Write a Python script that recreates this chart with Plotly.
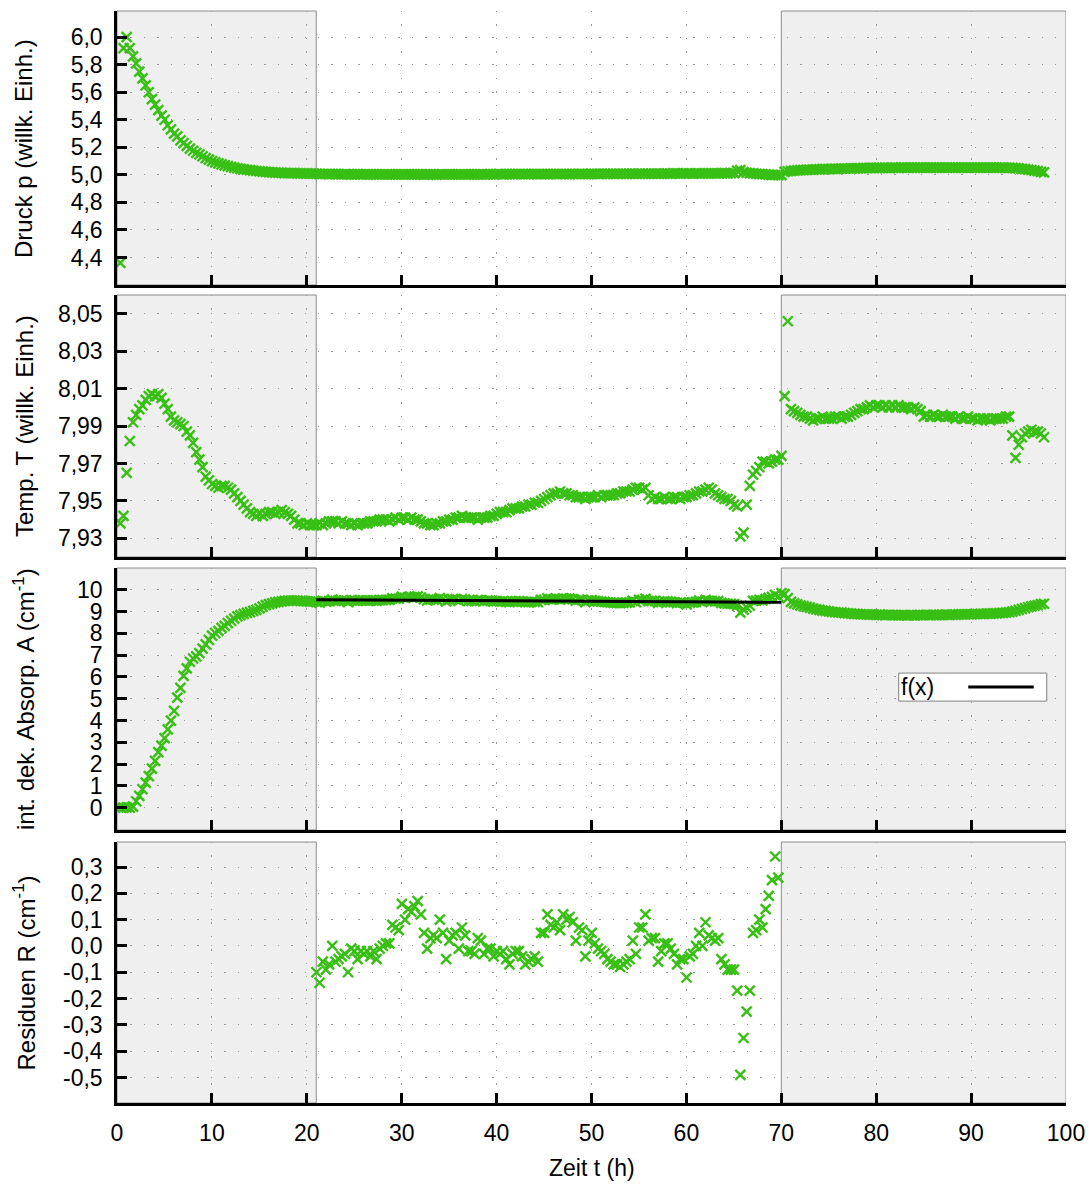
import plotly.graph_objects as go
from plotly.subplots import make_subplots

# ---------------------------------------------------------------------------
# Measurement series: one reading every 20 min, first reading at 0.35 h
# ---------------------------------------------------------------------------
T_START = 0.35
T_STEP = 1 / 3

# Druck p (willk. Einh.)
pressure = [
    4.36, 5.92,
    6.00, 5.92, 5.86,   5.81, 5.75, 5.70,   5.65, 5.60, 5.55,   5.51, 5.47, 5.43,
    5.40, 5.36, 5.33,   5.30, 5.28, 5.25,   5.23, 5.21, 5.19,   5.175, 5.160, 5.148,
    5.135, 5.122, 5.110, 5.100, 5.091, 5.083, 5.076, 5.069, 5.063, 5.058, 5.053, 5.048,
    5.044, 5.040, 5.037, 5.034, 5.031, 5.028, 5.026, 5.023, 5.021, 5.019, 5.018, 5.016,
    5.015, 5.014, 5.013, 5.013, 5.012, 5.012, 5.011, 5.011, 5.010, 5.010, 5.009, 5.009,
    # 21 h - 32 h
    5.008, 5.007, 5.006, 5.006, 5.005, 5.006, 5.005, 5.005, 5.004, 5.005, 5.004, 5.004,
    5.004, 5.005, 5.004, 5.004, 5.003, 5.004, 5.004, 5.004, 5.003, 5.003, 5.004, 5.004,
    5.004, 5.003, 5.003, 5.003, 5.004, 5.003, 5.003, 5.003, 5.004, 5.003, 5.002, 5.003,
    # 33 h - 44 h
    5.003, 5.003, 5.002, 5.003, 5.003, 5.004, 5.004, 5.003, 5.003, 5.003, 5.004, 5.004,
    5.004, 5.004, 5.003, 5.004, 5.004, 5.004, 5.004, 5.005, 5.004, 5.005, 5.005, 5.004,
    5.005, 5.005, 5.005, 5.005, 5.006, 5.005, 5.005, 5.005, 5.006, 5.006, 5.005, 5.005,
    # 45 h - 56 h
    5.005, 5.006, 5.006, 5.006, 5.005, 5.006, 5.006, 5.006, 5.005, 5.006, 5.006, 5.007,
    5.007, 5.006, 5.006, 5.007, 5.007, 5.007, 5.007, 5.008, 5.007, 5.008, 5.007, 5.008,
    5.008, 5.008, 5.007, 5.008, 5.009, 5.008, 5.009, 5.008, 5.008, 5.008, 5.009, 5.009,
    # 57 h - 69 h
    5.009, 5.008, 5.009, 5.009, 5.009, 5.010, 5.010, 5.009, 5.010, 5.010, 5.010, 5.009,
    5.010, 5.011, 5.010, 5.011, 5.010, 5.011, 5.011, 5.011, 5.012, 5.012, 5.011, 5.012,
    5.012, 5.030, 5.034, 5.020, 5.015, 5.012, 5.010, 5.008, 5.006, 5.005, 5.003, 5.002,
    5.000, 4.999, 4.998,
    # 70 h - 97 h
    4.998, 5.022, 5.026, 5.028, 5.030, 5.032, 5.034, 5.035, 5.036, 5.037, 5.038, 5.039,
    5.040, 5.041, 5.041, 5.042, 5.043, 5.044, 5.044, 5.045, 5.046, 5.046, 5.047, 5.047,
    5.048, 5.048, 5.049, 5.049, 5.050, 5.050, 5.050, 5.051, 5.051, 5.051, 5.051, 5.052,
    5.052, 5.051, 5.052, 5.052, 5.052, 5.052, 5.053, 5.052, 5.052, 5.052, 5.053, 5.052,
    5.052, 5.052, 5.053, 5.053, 5.052, 5.052, 5.052, 5.052, 5.053, 5.052, 5.053, 5.052,
    5.052, 5.052, 5.052, 5.052, 5.053, 5.052, 5.052, 5.052, 5.052, 5.052, 5.052, 5.051,
    5.051, 5.050, 5.049, 5.047, 5.044, 5.041, 5.038, 5.035, 5.031, 5.027, 5.022, 5.018,
]

# Temp. T (willk. Einh.)
temperature = [
    7.938, 7.942,
    7.965, 7.982, 7.992, 7.996, 7.999, 8.001, 8.004, 8.006, 8.007, 8.006, 8.007, 8.005,
    8.002, 7.999, 7.995, 7.993, 7.992, 7.991, 7.990, 7.987, 7.985, 7.981, 7.976, 7.972,
    7.968, 7.963, 7.961, 7.959, 7.958, 7.957, 7.958, 7.958, 7.957, 7.956, 7.954, 7.952,
    7.950, 7.948, 7.946, 7.944, 7.943, 7.942, 7.943, 7.942, 7.943, 7.944, 7.944, 7.943,
    7.944, 7.945, 7.944, 7.943, 7.942, 7.940, 7.938, 7.938, 7.937, 7.938, 7.937, 7.937,
    # 21 h - 32 h
    7.937, 7.938, 7.937, 7.938, 7.939, 7.939, 7.939, 7.938, 7.939, 7.938, 7.938, 7.937,
    7.938, 7.937, 7.938, 7.938, 7.938, 7.939, 7.939, 7.939, 7.940, 7.940, 7.940, 7.939,
    7.940, 7.941, 7.940, 7.941, 7.941, 7.940, 7.941, 7.940, 7.940, 7.939, 7.938, 7.938,
    # 33 h - 44 h
    7.937, 7.937, 7.938, 7.938, 7.939, 7.939, 7.940, 7.940, 7.941, 7.941, 7.942, 7.941,
    7.941, 7.941, 7.941, 7.940, 7.941, 7.941, 7.941, 7.942, 7.942, 7.943, 7.944, 7.944,
    7.944, 7.945, 7.946, 7.946, 7.946, 7.947, 7.947, 7.948, 7.948, 7.949, 7.949, 7.950,
    # 45 h - 56 h
    7.951, 7.952, 7.953, 7.954, 7.954, 7.955, 7.954, 7.954, 7.953, 7.953, 7.952, 7.952,
    7.952, 7.951, 7.952, 7.952, 7.952, 7.953, 7.952, 7.953, 7.953, 7.953, 7.953, 7.954,
    7.954, 7.955, 7.955, 7.955, 7.956, 7.957, 7.957, 7.956, 7.957, 7.953, 7.951, 7.952,
    # 57 h - 69 h
    7.951, 7.951, 7.952, 7.951, 7.951, 7.952, 7.952, 7.951, 7.952, 7.952, 7.953, 7.953,
    7.954, 7.955, 7.955, 7.956, 7.957, 7.956, 7.954, 7.953, 7.952, 7.951, 7.951, 7.950,
    7.948, 7.947, 7.931, 7.933, 7.948, 7.958, 7.964, 7.966, 7.968, 7.971, 7.971, 7.970,
    7.971, 7.972, 7.972,
    # 70 h - 97 h
    7.974, 8.006, 8.046, 7.999, 7.998, 7.997, 7.996, 7.995, 7.995, 7.994, 7.993, 7.994,
    7.994, 7.995, 7.994, 7.994, 7.994, 7.995, 7.995, 7.994, 7.995, 7.995, 7.996, 7.997,
    7.998, 7.999, 7.999, 8.000, 8.001, 8.000, 8.001, 8.001, 8.000, 8.001, 8.000, 8.001,
    8.000, 8.001, 8.000, 8.000, 8.000, 7.999, 8.000, 7.999, 7.998, 7.995, 7.996, 7.995,
    7.996, 7.995, 7.995, 7.996, 7.995, 7.995, 7.995, 7.994, 7.995, 7.994, 7.994, 7.995,
    7.994, 7.994, 7.993, 7.994, 7.994, 7.994, 7.993, 7.994, 7.994, 7.994, 7.994, 7.995,
    7.995, 7.985, 7.973, 7.980, 7.984, 7.986, 7.987, 7.988, 7.987, 7.987, 7.986, 7.984,
]

# int. dek. Absorp. A (cm^-1)
absorption = [
    0.02, 0.01,
    0.02, 0.00, 0.05, 0.30, 0.55, 0.85, 1.15, 1.45, 1.80, 2.15, 2.55, 2.85,
    3.20, 3.60, 4.00, 4.45, 5.05, 5.50, 6.05, 6.40, 6.70, 6.85, 6.95, 7.10,
    7.30, 7.50, 7.70, 7.90, 8.02, 8.12, 8.25, 8.35, 8.47, 8.58, 8.68, 8.78,
    8.84, 8.90, 8.94, 8.98, 9.03, 9.08, 9.15, 9.23, 9.30, 9.34, 9.38, 9.42,
    9.45, 9.47, 9.49, 9.50, 9.51, 9.51, 9.50, 9.49, 9.48, 9.47, 9.46, 9.47,
    # 21 h - 32 h
    9.45, 9.41, 9.49, 9.46, 9.48, 9.55, 9.49, 9.50, 9.51, 9.51, 9.44, 9.53,
    9.52, 9.49, 9.52, 9.51, 9.52, 9.50, 9.52, 9.49, 9.53, 9.53, 9.54, 9.54,
    9.61, 9.60, 9.59, 9.69, 9.63, 9.67, 9.66, 9.68, 9.70, 9.64, 9.57, 9.51,
    # 33 h - 44 h
    9.55, 9.56, 9.55, 9.62, 9.57, 9.47, 9.54, 9.56, 9.57, 9.50, 9.58, 9.55,
    9.49, 9.49, 9.48, 9.54, 9.53, 9.48, 9.50, 9.50, 9.47, 9.48, 9.47, 9.48,
    9.45, 9.43, 9.47, 9.48, 9.48, 9.46, 9.43, 9.44, 9.45, 9.45, 9.43, 9.54,
    # 45 h - 56 h
    9.54, 9.61, 9.57, 9.56, 9.58, 9.55, 9.61, 9.59, 9.60, 9.57, 9.50, 9.55,
    9.54, 9.44, 9.50, 9.53, 9.49, 9.47, 9.46, 9.45, 9.43, 9.41, 9.40, 9.40,
    9.39, 9.40, 9.41, 9.42, 9.49, 9.44, 9.54, 9.54, 9.59, 9.48, 9.49, 9.49,
    # 57 h - 69 h
    9.40, 9.44, 9.47, 9.47, 9.45, 9.43, 9.39, 9.41, 9.41, 9.33, 9.41, 9.42,
    9.45, 9.50, 9.45, 9.54, 9.49, 9.48, 9.47, 9.48, 9.40, 9.38, 9.36, 9.36,
    9.35, 9.27, 8.95, 9.09, 9.19, 9.27, 9.49, 9.50, 9.54, 9.51, 9.58, 9.63,
    9.68, 9.77, 9.69,
    # 70 h - 97 h
    9.85, 9.80, 9.62, 9.45, 9.38, 9.33, 9.28, 9.25, 9.22, 9.18, 9.14, 9.10,
    9.08, 9.05, 9.03, 9.01, 8.99, 8.97, 8.96, 8.95, 8.93, 8.92, 8.91, 8.90,
    8.89, 8.88, 8.88, 8.87, 8.86, 8.86, 8.85, 8.86, 8.85, 8.84, 8.85, 8.84,
    8.84, 8.83, 8.84, 8.84, 8.83, 8.84, 8.83, 8.84, 8.84, 8.84, 8.85, 8.84,
    8.85, 8.84, 8.85, 8.85, 8.86, 8.85, 8.86, 8.86, 8.87, 8.87, 8.87, 8.88,
    8.88, 8.89, 8.89, 8.90, 8.90, 8.91, 8.91, 8.92, 8.92, 8.93, 8.94, 8.95,
    8.97, 9.00, 9.04, 9.08, 9.12, 9.16, 9.20, 9.24, 9.27, 9.30, 9.34, 9.36,
]

# Residuen R (cm^-1) of the fit window, starting with reading no. 62 (21.02 h)
RES_FIRST = 62
residuals = [
    -0.10, -0.14, -0.06, -0.09, -0.07, 0.00, -0.06, -0.05, -0.04, -0.03, -0.10, -0.01,
    -0.02, -0.05, -0.02, -0.03, -0.02, -0.04, -0.02, -0.05, -0.01, 0.00, 0.01, 0.01,
    0.08, 0.07, 0.06, 0.16, 0.10, 0.14, 0.13, 0.15, 0.17, 0.12, 0.05, -0.01,
    0.03, 0.04, 0.03, 0.10, 0.05, -0.05, 0.02, 0.04, 0.05, -0.01, 0.07, 0.04,
    -0.02, -0.02, -0.03, 0.03, 0.02, -0.03, -0.01, -0.01, -0.04, -0.02, -0.03, -0.02,
    -0.05, -0.07, -0.03, -0.02, -0.02, -0.04, -0.07, -0.06, -0.05, -0.04, -0.06, 0.05,
    0.05, 0.12, 0.08, 0.07, 0.09, 0.06, 0.12, 0.10, 0.11, 0.09, 0.02, 0.07,
    0.06, -0.04, 0.02, 0.05, 0.01, -0.01, -0.02, -0.03, -0.05, -0.06, -0.07, -0.07,
    -0.08, -0.07, -0.06, -0.05, 0.02, -0.03, 0.07, 0.07, 0.12, 0.02, 0.03, 0.03,
    -0.06, -0.02, 0.01, 0.01, -0.01, -0.03, -0.07, -0.05, -0.05, -0.12, -0.04, -0.03,
    0.00, 0.05, 0.00, 0.09, 0.04, 0.03, 0.02, 0.03, -0.05, -0.07, -0.09, -0.09,
    -0.09, -0.17, -0.49, -0.35, -0.25, -0.17, 0.05, 0.06, 0.10, 0.07, 0.14, 0.19,
    0.25, 0.34, 0.26,
]

# Linear fit f(x) over the window 21 h - 70 h
fit_t = [21.0, 70.0]
fit_A = [9.55, 9.43]

# Time windows outside the fit (shaded)
shaded_windows = [(0.0, 21.0), (70.0, 100.0)]

assert len(pressure) == len(temperature) == len(absorption)

t = [T_START + T_STEP * i for i in range(len(pressure))]
t_res = t[RES_FIRST:RES_FIRST + len(residuals)]

# Axis ticks
x_ticks = [0, 10, 20, 30, 40, 50, 60, 70, 80, 90, 100]
p_ticks = [4.4, 4.6, 4.8, 5.0, 5.2, 5.4, 5.6, 5.8, 6.0]
p_labels = ["4,4", "4,6", "4,8", "5,0", "5,2", "5,4", "5,6", "5,8", "6,0"]
T_ticks = [7.93, 7.95, 7.97, 7.99, 8.01, 8.03, 8.05]
T_labels = ["7,93", "7,95", "7,97", "7,99", "8,01", "8,03", "8,05"]
A_ticks = [0, 1, 2, 3, 4, 5, 6, 7, 8, 9, 10]
A_labels = ["0", "1", "2", "3", "4", "5", "6", "7", "8", "9", "10"]
R_ticks = [-0.5, -0.4, -0.3, -0.2, -0.1, 0.0, 0.1, 0.2, 0.3]
R_labels = ["-0,5", "-0,4", "-0,3", "-0,2", "-0,1", "0,0", "0,1", "0,2", "0,3"]

# ---------------------------------------------------------------------------
GREEN = "#38bf14"
FONT = "Liberation Sans, Arial, sans-serif"
marker = dict(symbol="x-thin", size=10, color=GREEN, line=dict(width=2.4, color=GREEN))

fig = make_subplots(rows=4, cols=1, shared_xaxes=True, vertical_spacing=0.01)

fig.add_trace(go.Scatter(x=t, y=pressure, mode="markers", marker=marker,
                         showlegend=False), row=1, col=1)
fig.add_trace(go.Scatter(x=t, y=temperature, mode="markers", marker=marker,
                         showlegend=False), row=2, col=1)
fig.add_trace(go.Scatter(x=t, y=absorption, mode="markers", marker=marker,
                         showlegend=False), row=3, col=1)
fig.add_trace(go.Scatter(x=fit_t, y=fit_A, mode="lines", name="f(x)",
                         line=dict(color="black", width=3), showlegend=False),
              row=3, col=1)
fig.add_trace(go.Scatter(x=t_res, y=residuals, mode="markers", marker=marker,
                         showlegend=False), row=4, col=1)

domains = [[0.7491, 1.0], [0.5, 0.7399], [0.25, 0.4899], [0.0, 0.239]]
y_ranges = [[4.2, 6.19], [7.92, 8.06], [-1.02, 11.0], [-0.597, 0.395]]
y_tick_sets = [(p_ticks, p_labels), (T_ticks, T_labels),
               (A_ticks, A_labels), (R_ticks, R_labels)]

grid_style = dict(showgrid=True, gridcolor="#9a9a9a", gridwidth=1.4,
                  griddash="1.4px,12px")
axis_style = dict(showline=True, linecolor="black", linewidth=2.5, mirror=False,
                  ticks="inside", ticklen=10, tickwidth=2.5, tickcolor="black",
                  zeroline=False, automargin=False,
                  tickfont=dict(family=FONT, size=23, color="black"))

for k in range(4):
    n = "" if k == 0 else str(k + 1)
    fig.layout["xaxis" + n].update(range=[0, 100], tickvals=x_ticks,
                                   ticklabelstandoff=8, **grid_style, **axis_style)
    fig.layout["yaxis" + n].update(domain=domains[k], range=y_ranges[k],
                                   tickvals=y_tick_sets[k][0],
                                   ticktext=y_tick_sets[k][1],
                                   ticklabelstandoff=7, **grid_style, **axis_style)
    for x0, x1 in shaded_windows:
        fig.add_shape(type="rect", xref="x" + n, yref="y" + n + " domain",
                      x0=x0, x1=x1, y0=0, y1=1, layer="below",
                      fillcolor="#efefef", line=dict(color="#8c8c8c", width=1))

fig.layout.xaxis4.update(showticklabels=True)

# Axis titles
titles = ["Druck p (willk. Einh.)", "Temp. T (willk. Einh.)",
          "int. dek. Absorp. A (cm<sup>-1</sup>)", "Residuen R (cm<sup>-1</sup>)"]
for k, text in enumerate(titles):
    fig.add_annotation(text=text, xref="paper", yref="paper",
                       x=-0.098, y=sum(domains[k]) / 2, textangle=-90,
                       xanchor="center", yanchor="middle", showarrow=False,
                       font=dict(family=FONT, size=24, color="black"))
fig.add_annotation(text="Zeit t (h)", xref="paper", yref="paper", x=0.5, y=-0.0595,
                   xanchor="center", yanchor="middle", showarrow=False,
                   font=dict(family=FONT, size=23, color="black"))

# Key for the fit curve
fig.add_shape(type="rect", xref="x3 domain", yref="y3 domain",
              x0=0.8237, x1=0.9797, y0=0.492, y1=0.599, layer="above",
              fillcolor="white", line=dict(color="#808080", width=1))
fig.add_shape(type="line", xref="x3 domain", yref="y3 domain",
              x0=0.897, x1=0.966, y0=0.546, y1=0.546, layer="above",
              line=dict(color="black", width=3))
fig.add_annotation(text="f(x)", xref="x3 domain", yref="y3 domain",
                   x=0.8235, y=0.546, xanchor="left", yanchor="middle",
                   showarrow=False, font=dict(family=FONT, size=23, color="black"))

fig.update_layout(width=1090, height=1187,
                  margin=dict(l=117, r=24, t=11, b=84),
                  paper_bgcolor="white", plot_bgcolor="white",
                  font=dict(family=FONT, size=23, color="black"),
                  showlegend=False)

fig.write_html("out.html")
